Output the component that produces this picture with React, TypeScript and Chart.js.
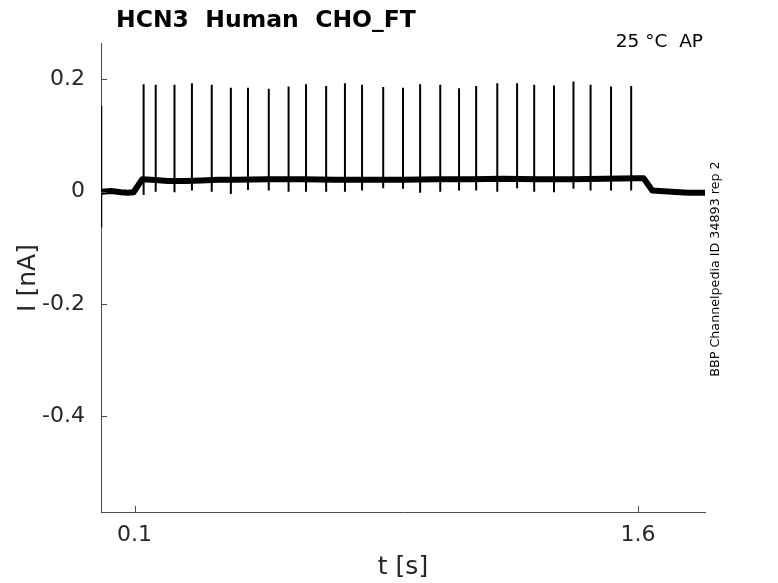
import { useEffect, useRef } from 'react';
import { Chart, registerables } from 'chart.js';

Chart.register(...registerables);

// spike train (time in s, current in nA)
const spikeTimes = [
  0.127, 0.163, 0.219, 0.271, 0.33, 0.387, 0.438, 0.5, 0.559, 0.611, 0.671, 0.727, 0.778, 0.841,
  0.9, 0.951, 1.011, 1.067, 1.118, 1.181, 1.24, 1.291, 1.35, 1.408, 1.459, 1.52, 1.58,
];
const spikePeaks = [
  0.191, 0.19, 0.19, 0.193, 0.19, 0.185, 0.185, 0.183, 0.187, 0.191, 0.188, 0.193, 0.19, 0.186,
  0.185, 0.191, 0.19, 0.184, 0.188, 0.193, 0.193, 0.19, 0.189, 0.196, 0.19, 0.187, 0.188,
];
const spikeDips = [
  -0.006, 0.0, -0.001, 0.002, 0.0, -0.004, 0.003, 0.002, 0.0, 0.0, 0.0, 0.0, 0.002, 0.006, 0.005,
  -0.002, 0.0, 0.002, 0.002, 0.0, 0.006, 0.0, -0.001, 0.005, 0.002, 0.002, 0.002,
];

// slow holding current under the spikes
const baseTimes = [
  0, 0.003, 0.03, 0.06, 0.08, 0.097, 0.123, 0.15, 0.2, 0.25, 0.3, 0.35, 0.4, 0.5, 0.6, 0.7, 0.8,
  0.9, 1.0, 1.1, 1.2, 1.3, 1.4, 1.5, 1.6, 1.617, 1.643, 1.7, 1.75, 1.8,
];
const baseValues = [
  0.0, 0.0, 0.001, -0.001, -0.002, -0.001, 0.022, 0.021, 0.019, 0.019, 0.02, 0.021, 0.021, 0.022,
  0.022, 0.021, 0.021, 0.021, 0.022, 0.022, 0.023, 0.022, 0.022, 0.023, 0.024, 0.024, 0.002, 0.0,
  -0.002, -0.002,
];

// capacitive transient at the start of the sweep
const onsetTime = 0.0015;
const onsetMax = 0.153;
const onsetMin = -0.064;

const xTicks = [0.1, 1.6];
const yTicks = [0.2, 0, -0.2, -0.4];

const FONT = '"DejaVu Sans", sans-serif';

const annotations = {
  id: 'annotations',
  afterDraw(chart: any) {
    const { ctx, chartArea, scales } = chart;
    ctx.save();
    // inward tick marks
    ctx.strokeStyle = '#4d4d4d';
    ctx.lineWidth = 1;
    ctx.beginPath();
    xTicks.forEach((v) => {
      const px = Math.round(scales.x.getPixelForValue(v)) + 0.5;
      ctx.moveTo(px, chartArea.bottom);
      ctx.lineTo(px, chartArea.bottom - 6);
    });
    yTicks.forEach((v) => {
      const py = Math.round(scales.y.getPixelForValue(v)) + 0.5;
      ctx.moveTo(chartArea.left, py);
      ctx.lineTo(chartArea.left + 6, py);
    });
    ctx.stroke();

    ctx.fillStyle = '#000';
    ctx.font = `bold 23.5px ${FONT}`;
    ctx.textAlign = 'left';
    ctx.textBaseline = 'alphabetic';
    ctx.fillText('HCN3  Human  CHO_FT', 116, 27);

    ctx.font = `18.5px ${FONT}`;
    ctx.textAlign = 'right';
    ctx.fillText('25 °C  AP', 703, 47);

    ctx.fillStyle = '#262626';
    ctx.font = `25px ${FONT}`;
    ctx.textAlign = 'center';
    ctx.textBaseline = 'middle';
    ctx.fillText('t [s]', 403, 567);

    ctx.save();
    ctx.translate(28, 278);
    ctx.rotate(-Math.PI / 2);
    ctx.fillText('I [nA]', 0, 0);
    ctx.restore();

    ctx.fillStyle = '#000';
    ctx.save();
    ctx.translate(716, 269);
    ctx.rotate(-Math.PI / 2);
    ctx.font = `12.7px ${FONT}`;
    ctx.fillText('BBP Channelpedia ID 34893 rep 2', 0, 0);
    ctx.restore();

    ctx.restore();
  },
};

export default function App() {
  const canvasRef = useRef<HTMLCanvasElement>(null);

  useEffect(() => {
    if (!canvasRef.current) return;

    const spikePoints = spikeTimes.flatMap((t, i) => [
      { x: t, y: spikeDips[i] },
      { x: t, y: spikePeaks[i] },
      { x: t, y: null },
    ]);

    const chart = new Chart(canvasRef.current, {
      type: 'line',
      data: {
        datasets: [
          {
            data: baseTimes.map((t, i) => ({ x: t, y: baseValues[i] })),
            borderColor: '#000',
            borderWidth: 6,
            borderJoinStyle: 'round',
            pointRadius: 0,
            tension: 0,
          },
          {
            data: spikePoints as any,
            borderColor: '#000',
            borderWidth: 2,
            pointRadius: 0,
            spanGaps: false,
          },
          {
            data: [
              { x: onsetTime, y: onsetMin },
              { x: onsetTime, y: onsetMax },
            ],
            borderColor: '#000',
            borderWidth: 1.5,
            pointRadius: 0,
          },
        ],
      },
      options: {
        animation: false,
        responsive: false,
        layout: { padding: { top: 43, right: 73, left: 0, bottom: 0 } },
        plugins: { legend: { display: false }, tooltip: { enabled: false } },
        scales: {
          x: {
            type: 'linear',
            min: 0,
            max: 1.8,
            afterFit: (s: any) => {
              s.height = 71;
            },
            afterBuildTicks: (s: any) => {
              s.ticks = xTicks.map((v) => ({ value: v }));
            },
            grid: { display: true, drawOnChartArea: false, drawTicks: false },
            border: { display: true, color: '#4d4d4d', width: 1 },
            ticks: {
              padding: 10,
              color: '#262626',
              font: { family: FONT, size: 22 },
              maxRotation: 0,
              callback: (v: any) => String(v),
            },
          },
          y: {
            type: 'linear',
            min: -0.57,
            max: 0.2645,
            afterFit: (s: any) => {
              s.width = 101;
            },
            afterBuildTicks: (s: any) => {
              s.ticks = yTicks.map((v) => ({ value: v }));
            },
            grid: { display: true, drawOnChartArea: false, drawTicks: false },
            border: { display: true, color: '#4d4d4d', width: 1 },
            ticks: {
              padding: 16,
              color: '#262626',
              font: { family: FONT, size: 22 },
              callback: (v: any) => String(v),
            },
          },
        },
      },
      plugins: [annotations],
    });

    return () => chart.destroy();
  }, []);

  return (
    <div style={{ position: 'absolute', left: 0, top: 0, width: 778, height: 583, background: '#fff' }}>
      <canvas ref={canvasRef} width={778} height={583}></canvas>
    </div>
  );
}
